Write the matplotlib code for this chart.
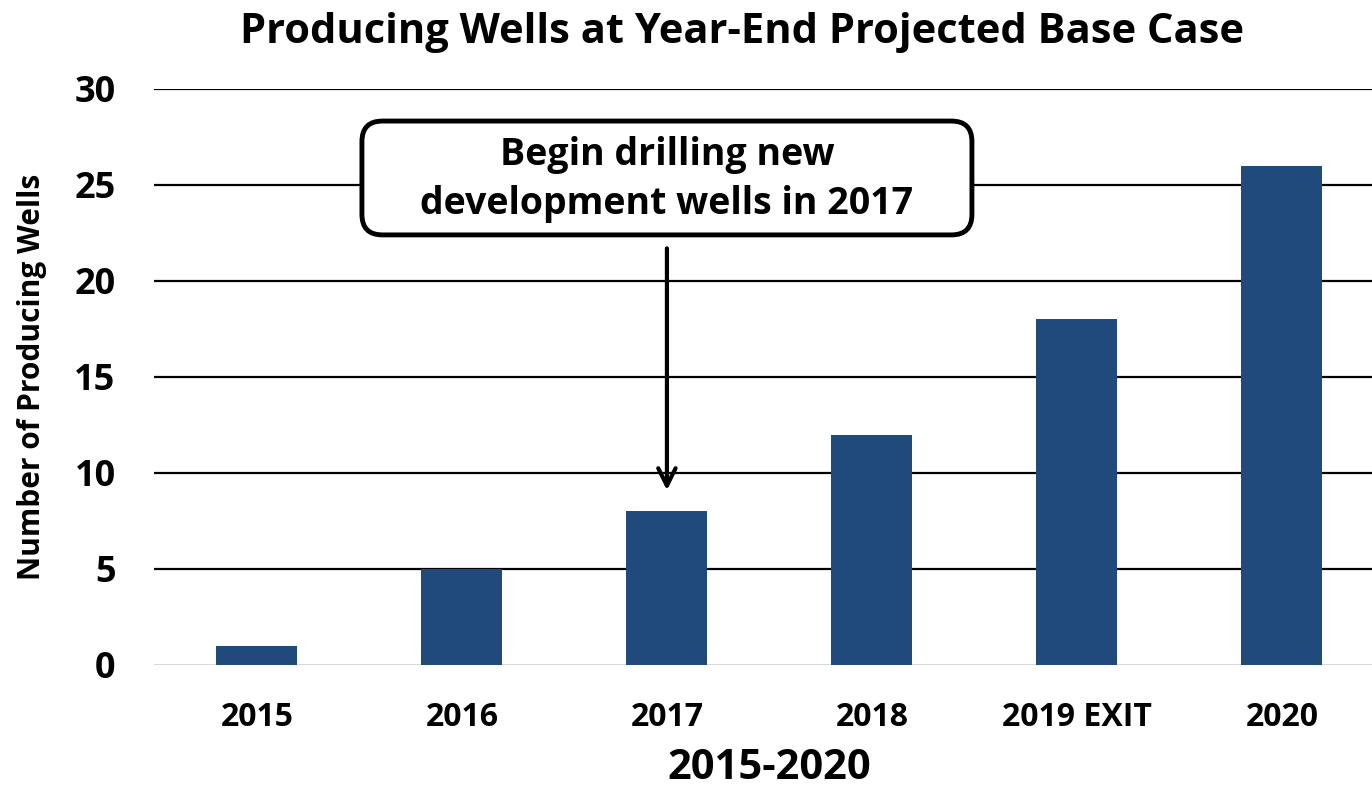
import matplotlib.pyplot as plt
from matplotlib.patches import FancyBboxPatch

# Datos del gráfico
categorias = ['2015', '2016', '2017', '2018', '2019 EXIT', '2020']
pozos = [1, 5, 8, 12, 18, 26]
ticks_y = [0, 5, 10, 15, 20, 25, 30]

plt.rcParams['font.family'] = ['Open Sans', 'DejaVu Sans']
plt.rcParams['font.weight'] = 'bold'

fig = plt.figure(figsize=(13.72, 7.91), dpi=100)
ax = fig.add_axes([0.1126, 0.1593, 0.8964, 0.7282])

x = range(len(categorias))
ax.bar(x, pozos, width=0.395, color='#214A7C', zorder=3)

ax.set_xlim(-0.5, 5.5)
ax.set_ylim(0, 30)
ax.set_yticks(ticks_y)
ax.set_yticklabels([str(t) for t in ticks_y], fontsize=26, fontweight='bold')
ax.set_xticks(list(x))
ax.set_xticklabels(categorias, fontsize=23, fontweight='bold')
ax.tick_params(axis='both', length=0)
ax.tick_params(axis='x', pad=26)
ax.tick_params(axis='y', pad=28)

for t in ticks_y[1:]:
    ax.axhline(t, color='black', lw=1.6, zorder=1)
ax.axhline(0, color='#d9d9d9', lw=1.5, zorder=2)
for s in ax.spines.values():
    s.set_visible(False)

ax.set_xlabel('2015-2020', fontsize=30, fontweight='bold', labelpad=10)
ax.set_ylabel('Number of Producing Wells', fontsize=21.5, fontweight='bold', labelpad=20)
fig.suptitle('Producing Wells at Year-End Projected Base Case', fontsize=30,
             fontweight='bold', y=0.985, x=0.541)

# Caja de anotación con flecha
ax.annotate('', xy=(2, 9.1), xytext=(2, 21.7),
            arrowprops=dict(arrowstyle='->,head_length=0.5,head_width=0.25', color='black',
                            lw=3, mutation_scale=25, shrinkA=0, shrinkB=0), zorder=5)
caja = FancyBboxPatch((0.512, 22.4), 2.976, 5.93,
                      boxstyle='round,pad=0,rounding_size=0.1', mutation_aspect=10.7,
                      fc='white', ec='black', lw=3.5, zorder=6)
ax.add_patch(caja)
ax.text(2, 25.3, 'Begin drilling new\ndevelopment wells in 2017', ha='center', va='center',
        fontsize=27, fontweight='bold', linespacing=1.37, zorder=7)

fig.savefig('out.png', dpi=100)
